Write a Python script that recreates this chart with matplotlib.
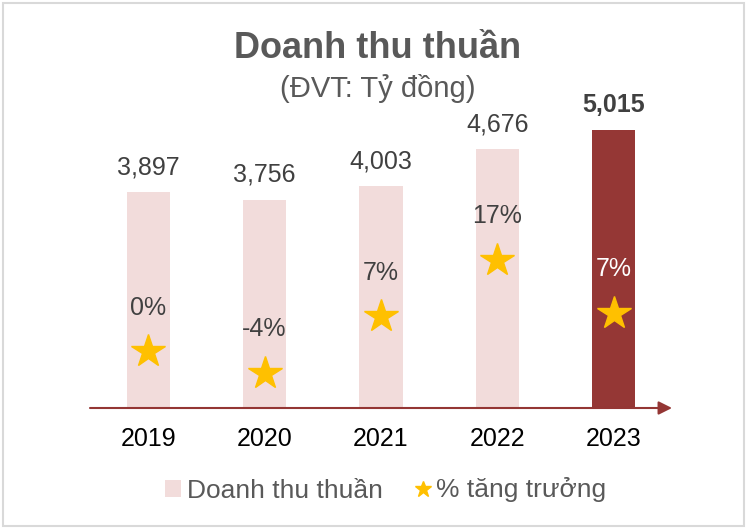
import matplotlib
matplotlib.use('Agg')
import matplotlib.pyplot as plt
from matplotlib.patches import Patch, Rectangle
from matplotlib.lines import Line2D

years = ['2019', '2020', '2021', '2022', '2023']
revenue = [3897, 3756, 4003, 4676, 5015]
growth = [0.3, -3.6, 6.6, 16.8, 7.2]
growth_labels = ['0%', '-4%', '7%', '17%', '7%']

plt.rcParams['font.family'] = ['Liberation Sans', 'DejaVu Sans']

W, H = 747, 529
fig = plt.figure(figsize=(W / 100, H / 100), dpi=100)
ax = fig.add_axes([90 / W, (H - 408) / H, 582 / W, 288 / H])
xs = list(range(len(years)))
colors = ['#F2DCDB'] * 4 + ['#953735']
ax.bar(xs, revenue, width=0.37, color=colors, zorder=2)
ax.set_xlim(-0.5, 4.5)
ax.set_ylim(0, 5200)
for s in ax.spines.values():
    s.set_visible(False)
ax.set_yticks([])
ax.set_xticks(xs)
ax.set_xticklabels(years, fontsize=18, color='black')
ax.tick_params(axis='x', length=0, pad=14)
ax.annotate('', xy=(1.0, 0), xytext=(0, 0), xycoords='axes fraction',
            arrowprops=dict(arrowstyle='-|>', color='#943634', lw=1.5,
                            mutation_scale=20, shrinkA=0, shrinkB=0), zorder=3)

for i, v in enumerate(revenue):
    ax.annotate(f"{v:,}", (i, v), xytext=(0, 18), textcoords='offset points',
                ha='center', va='center', fontsize=18, color='#404040',
                fontweight='bold' if i == 4 else 'normal')

ax2 = ax.twinx()
ax2.set_ylim(-9.9, 42.0)
for s in ax2.spines.values():
    s.set_visible(False)
ax2.set_yticks([])
ax2.plot(xs, growth, linestyle='none', marker='*', markersize=25,
         color='#FFC000', zorder=4)
for i, (g, lbl) in enumerate(zip(growth, growth_labels)):
    ax2.annotate(lbl, (i, g), xytext=(0, 31.5), textcoords='offset points',
                 ha='center', va='center', fontsize=18,
                 color='white' if i == 4 else '#404040')

fig.text(378 / W, 1 - 58 / H, 'Doanh thu thuần', ha='center', va='baseline',
         fontsize=26, fontweight='bold', color='#595959')
fig.text(378 / W, 1 - 97 / H, '(ĐVT: Tỷ đồng)', ha='center', va='baseline',
         fontsize=21, color='#595959')

handles = [Patch(facecolor='#F2DCDB', label='Doanh thu thuần'),
           Line2D([], [], linestyle='none', marker='*', color='#FFC000',
                  markersize=12, label='% tăng trưởng')]
fig.legend(handles=handles, loc='center', bbox_to_anchor=(386 / W, 1 - 490 / H),
           ncol=2, frameon=False, fontsize=19, labelcolor='#595959',
           handlelength=0.6, handleheight=0.6, handletextpad=0.2,
           columnspacing=1.25)

fig.add_artist(Rectangle((3 / W, 3 / H), 741 / W, 523 / H, transform=fig.transFigure,
                         fill=False, edgecolor='#D9D9D9', linewidth=1.5))

fig.savefig('out.png', dpi=100)
